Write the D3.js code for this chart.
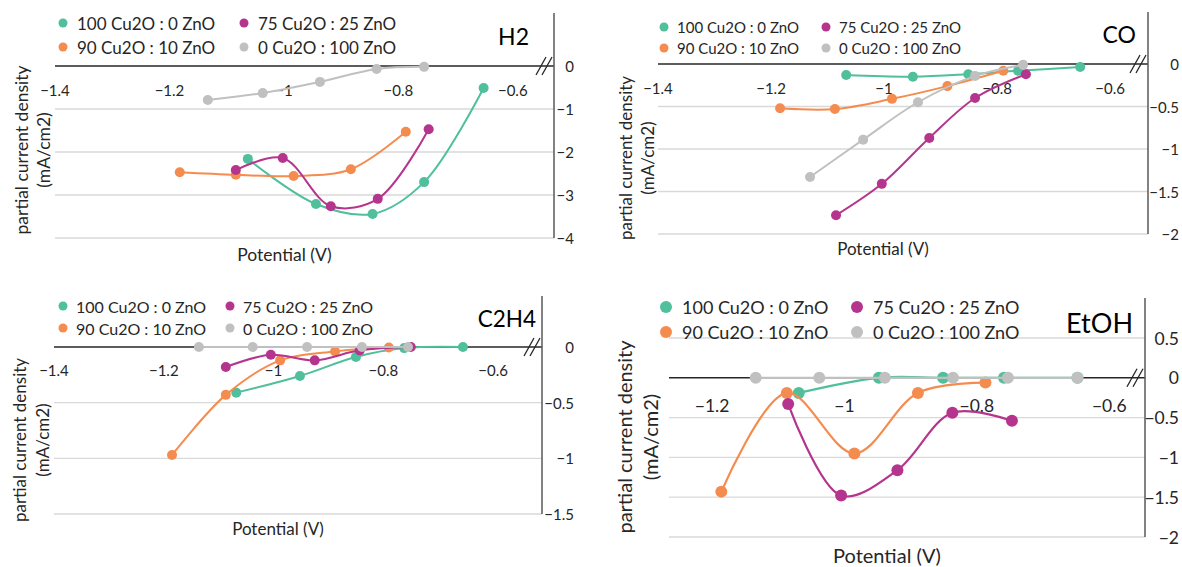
<!DOCTYPE html>
<html>
<head>
<meta charset="utf-8">
<script src="https://cdn.jsdelivr.net/npm/d3@7"></script>
<style>
body { margin: 0; background: #fff; }
svg text { font-family: Lato, "Open Sans", sans-serif; fill: #262626; }
</style>
</head>
<body>
<svg id="chart" width="1182" height="567"></svg>
<script>
// legend labels, in the order the series are listed
const seriesNames = ["100 Cu2O : 0 ZnO", "90 Cu2O : 10 ZnO", "75 Cu2O : 25 ZnO", "0 Cu2O : 100 ZnO"];
const seriesColors = ["#4fbf9c", "#f58c4f", "#b5358e", "#c0c0c0"];

const xTicks = [-1.4, -1.2, -1, -0.8, -0.6];
const h2YTicks = [0, -1, -2, -3, -4];
const coYTicks = [0, -0.5, -1, -1.5, -2];
const c2h4YTicks = [0, -0.5, -1, -1.5];
const etohYTicks = [0.5, 0, -0.5, -1, -1.5, -2];

// [potential (V), partial current density (mA/cm2)]
const h2Cu100 = [[-1.063, -2.16], [-0.944, -3.21], [-0.845, -3.44], [-0.755, -2.70], [-0.651, -0.51]];
const h2Cu90 = [[-1.182, -2.47], [-1.084, -2.53], [-0.983, -2.56], [-0.883, -2.40], [-0.787, -1.53]];
const h2Cu75 = [[-1.084, -2.42], [-1.002, -2.14], [-0.918, -3.26], [-0.836, -3.09], [-0.747, -1.47]];
const h2Cu0 = [[-1.133, -0.79], [-1.037, -0.63], [-0.937, -0.37], [-0.838, -0.07], [-0.755, -0.02]];

const coCu100 = [[-1.067, -0.13], [-0.949, -0.15], [-0.851, -0.12], [-0.763, -0.08], [-0.653, -0.035]];
const coCu90 = [[-1.184, -0.52], [-1.087, -0.53], [-0.986, -0.41], [-0.888, -0.26], [-0.789, -0.08]];
const coCu75 = [[-1.085, -1.78], [-1.004, -1.41], [-0.920, -0.87], [-0.839, -0.40], [-0.749, -0.12]];
const coCu0 = [[-1.131, -1.33], [-1.037, -0.89], [-0.940, -0.45], [-0.839, -0.14], [-0.754, -0.01]];

const c2h4Cu100 = [[-1.068, -0.41], [-0.952, -0.26], [-0.850, -0.09], [-0.762, -0.01], [-0.655, 0]];
const c2h4Cu90 = [[-1.185, -0.97], [-1.087, -0.43], [-0.988, -0.12], [-0.888, -0.04], [-0.790, -0.005]];
const c2h4Cu75 = [[-1.087, -0.18], [-1.005, -0.07], [-0.925, -0.12], [-0.843, -0.03], [-0.750, 0]];
const c2h4Cu0 = [[-1.136, 0], [-1.038, 0], [-0.939, 0], [-0.839, 0], [-0.755, 0]];

const etohCu100 = [[-1.069, -0.19], [-0.948, 0], [-0.851, 0], [-0.759, 0], [-0.648, 0]];
const etohCu90 = [[-1.186, -1.43], [-1.087, -0.19], [-0.985, -0.95], [-0.889, -0.19], [-0.787, -0.06]];
const etohCu75 = [[-1.085, -0.33], [-1.005, -1.48], [-0.920, -1.16], [-0.837, -0.44], [-0.747, -0.54]];
const etohCu0 = [[-1.134, 0], [-1.038, 0], [-0.939, 0], [-0.836, 0], [-0.753, 0], [-0.648, 0]];

const svg = d3.select("#chart");

const panels = [
    { title: "H2", series: [h2Cu100, h2Cu90, h2Cu75, h2Cu0], yTicks: h2YTicks,
      xDom: [-1.4, -0.528], xRange: [55, 554], yDom: [-4, 0], yRange: [238, 66], axisTop: 13,
      legX: [63, 244], legY: [23, 47], legGap: 14, legFont: 17, legR: 4.5,
      tickFont: 15, tickDy: 24, yLabRight: 574, labelFont: 17.5, titleFont: 23, titleX: 529, titleY: 45,
      yTitleX: [21, 43], yTitleY: 150, xTitleY: 254, r: 5, lw: 2 },
    { title: "CO", series: [coCu100, coCu90, coCu75, coCu0], yTicks: coYTicks,
      xDom: [-1.4, -0.533], xRange: [658, 1148], yDom: [-2, 0], yRange: [234, 64], axisTop: 12,
      legX: [664, 826], legY: [27, 48], legGap: 13, legFont: 15, legR: 4.5,
      tickFont: 15, tickDy: 24, yLabRight: 1179, labelFont: 17, titleFont: 23, titleX: 1136, titleY: 43,
      yTitleX: [625, 647], yTitleY: 158, xTitleY: 248, r: 5, lw: 2 },
    { title: "C2H4", series: [c2h4Cu100, c2h4Cu90, c2h4Cu75, c2h4Cu0], yTicks: c2h4YTicks,
      xDom: [-1.4, -0.511], xRange: [54, 542], yDom: [-1.5, 0], yRange: [514, 347], axisTop: 296,
      legX: [63, 230], legY: [306, 328], legGap: 13, legFont: 16, legR: 4.5,
      tickFont: 15, tickDy: 23, yLabRight: 574, labelFont: 17, titleFont: 22.5, titleX: 536, titleY: 327,
      yTitleX: [19, 42], yTitleY: 440, xTitleY: 528, r: 5, lw: 2 },
    { title: "EtOH", series: [etohCu100, etohCu90, etohCu75, etohCu0], yTicks: etohYTicks,
      xDom: [-1.265, -0.546], xRange: [669, 1145], yDom: [-2, 0.5], yRange: [537, 338], axisTop: 298,
      legX: [666, 857], legY: [307, 332], legGap: 16, legFont: 18, legR: 6,
      tickFont: 17.5, tickDy: 28, yLabRight: 1179, labelFont: 20, titleFont: 27, titleX: 1133, titleY: 333,
      yTitleX: [624, 650], yTitleY: 437, xTitleY: 555, r: 6, lw: 2.2 }
];

// legend slots: column-major, like the workbook legend
const legendSlots = [[0, 0], [0, 1], [1, 0], [1, 1]];

function drawPanel(p) {
    const g = svg.append("g");
    const x = d3.scaleLinear().domain(p.xDom).range(p.xRange);
    const y = d3.scaleLinear().domain(p.yDom).range(p.yRange);
    const axisX = p.xRange[1];

    // gridlines
    g.selectAll("line.grid").data(p.yTicks.filter(t => t != 0)).enter()
        .append("line")
        .attr("x1", p.xRange[0]).attr("x2", axisX)
        .attr("y1", d => y(d)).attr("y2", d => y(d))
        .attr("stroke", "#d9d9d9").attr("stroke-width", 1.3);

    // horizontal axis at zero
    g.append("line")
        .attr("x1", p.xRange[0]).attr("x2", axisX)
        .attr("y1", y(0)).attr("y2", y(0))
        .attr("stroke", "#262626").attr("stroke-width", 1.5);

    // vertical axis on the right
    g.append("line")
        .attr("x1", axisX).attr("x2", axisX)
        .attr("y1", p.axisTop).attr("y2", y(p.yDom[0]))
        .attr("stroke", "#595959").attr("stroke-width", 1.5);

    // break marks
    [-13, -7].forEach(off => {
        g.append("line")
            .attr("x1", axisX + off - 5).attr("y1", y(0) + 9)
            .attr("x2", axisX + off + 5).attr("y2", y(0) - 9)
            .attr("stroke", "#262626").attr("stroke-width", 1.3);
    });

    // x tick labels
    g.selectAll("text.xt").data(xTicks.filter(t => t >= p.xDom[0] - 1e-9)).enter()
        .append("text")
        .attr("x", d => x(d)).attr("y", y(0) + p.tickDy)
        .attr("text-anchor", "middle").attr("dominant-baseline", "central")
        .style("font-size", p.tickFont + "px")
        .text(d => d3.format("")(d));

    // y tick labels, right-aligned past the axis
    g.selectAll("text.yt").data(p.yTicks).enter()
        .append("text")
        .attr("x", p.yLabRight)
        .attr("y", d => y(d))
        .attr("text-anchor", "end").attr("dominant-baseline", "central")
        .style("font-size", p.tickFont + "px")
        .text(d => d3.format("")(d));

    // series
    const line = d3.line()
        .x(d => x(d[0])).y(d => y(d[1]))
        .curve(d3.curveCatmullRom.alpha(0.5));
    p.series.forEach((s, i) => {
        g.append("path")
            .attr("d", line(s))
            .attr("fill", "none")
            .attr("stroke", seriesColors[i])
            .attr("stroke-width", p.lw);
        g.selectAll(null).data(s).enter()
            .append("circle")
            .attr("cx", d => x(d[0])).attr("cy", d => y(d[1]))
            .attr("r", p.r)
            .attr("fill", seriesColors[i]);
    });

    // legend
    seriesNames.forEach((name, i) => {
        const [col, row] = legendSlots[i];
        const lx = p.legX[col], ly = p.legY[row];
        g.append("circle").attr("cx", lx).attr("cy", ly).attr("r", p.legR)
            .attr("fill", seriesColors[i]);
        g.append("text").attr("x", lx + p.legGap).attr("y", ly)
            .attr("dominant-baseline", "central")
            .style("font-size", p.legFont + "px")
            .text(name);
    });

    // chart title
    g.append("text")
        .attr("x", p.titleX).attr("y", p.titleY)
        .attr("text-anchor", "end")
        .style("font-size", p.titleFont + "px")
        .style("fill", "#000")
        .text(p.title);

    // axis titles
    g.append("text")
        .attr("x", (p.xRange[0] + axisX) / 2 - 20).attr("y", p.xTitleY)
        .attr("text-anchor", "middle").attr("dominant-baseline", "central")
        .style("font-size", p.labelFont + "px")
        .text("Potential (V)");
    ["partial current density", "(mA/cm2)"].forEach((t, k) => {
        g.append("text")
            .attr("transform", `translate(${p.yTitleX[k]},${p.yTitleY}) rotate(-90)`)
            .attr("text-anchor", "middle").attr("dominant-baseline", "central")
            .style("font-size", p.labelFont + "px")
            .text(t);
    });
}

panels.forEach(drawPanel);
</script>
</body>
</html>
